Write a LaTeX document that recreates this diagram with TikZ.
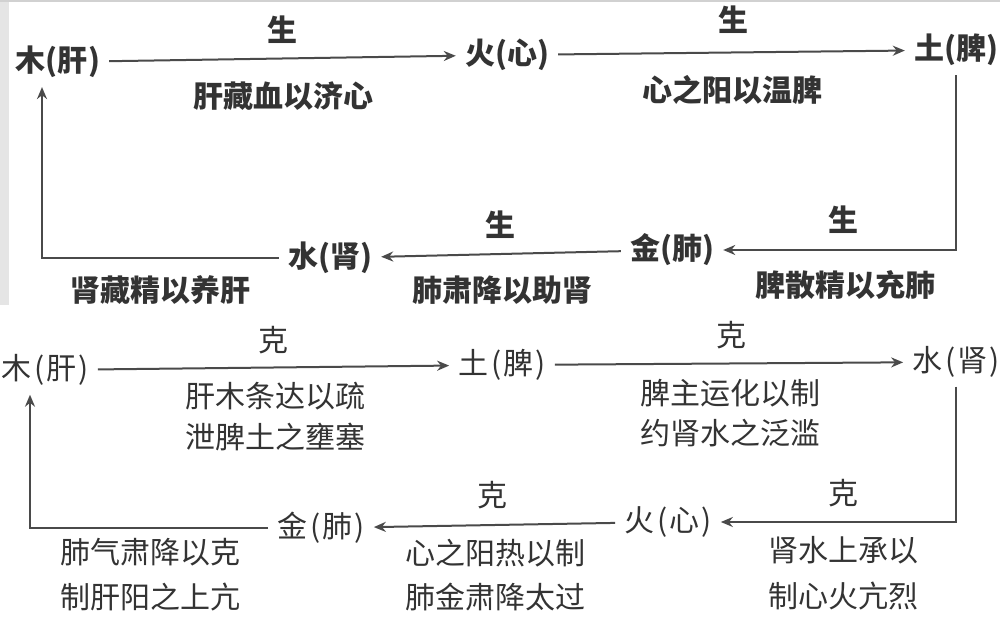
\documentclass[tikz,border=0pt]{standalone}
\usepackage{fontspec}
\newfontfamily\cjk{Noto Sans CJK SC}
\usetikzlibrary{arrows.meta}
\definecolor{ink}{HTML}{333333}
\definecolor{linec}{HTML}{4A4A4A}
\begin{document}
\begin{tikzpicture}[x=1pt,y=-1pt,
  el/.style={font=\cjk\bfseries\fontsize{30}{31}\selectfont,text=ink,inner xsep=9pt,inner ysep=9pt},
  elb/.style={font=\cjk\fontsize{30}{31}\selectfont,text=ink,inner xsep=9pt,inner ysep=9pt},
  lab/.style={font=\cjk\bfseries\fontsize{30}{32}\selectfont,text=ink,inner sep=0pt},
  labb/.style={font=\cjk\fontsize{30}{32}\selectfont,text=ink,inner sep=0pt,align=center},
  arr/.style={draw=linec,line width=2pt,-{Stealth[length=12pt,width=10pt]}}]
\useasboundingbox (0,0) rectangle (1000,620);
\fill[white] (0,0) rectangle (1000,620);
\fill[black!10] (0,0) rectangle (9,305);
\fill[black!18] (0,0) rectangle (1000,2);

% ---- upper cycle (sheng) ----
\node[el] (mu1)   at (58,62)   {木(肝)};
\node[el] (huo1)  at (507,55)  {火(心)};
\node[el] (tu1)   at (956,50)  {土(脾)};
\node[el] (jin1)  at (672,250) {金(肺)};
\node[el] (shui1) at (330,258) {水(肾)};

\draw[arr] (mu1) -- (huo1);
\draw[arr] (huo1) -- (tu1);
\draw[arr] (tu1.south) |- (jin1.east);
\draw[arr] (jin1) -- (shui1);
\draw[arr] (shui1.west) -| ([xshift=-16pt]mu1.south);

\node[lab] (s1) at (282,30)  {生};
\node[lab] (d1) at (283,96)  {肝藏血以济心};
\node[lab] (s2) at (733,20)  {生};
\node[lab] (d2) at (732,90)  {心之阳以温脾};
\node[lab] (s3) at (843,220) {生};
\node[lab] (d3) at (845,285) {脾散精以充肺};
\node[lab] (s4) at (500,225) {生};
\node[lab] (d4) at (502,290) {肺肃降以助肾};
\node[lab] (d5) at (160,290) {肾藏精以养肝};

% ---- lower cycle (ke) ----
\node[elb] (mu2)   at (45,370)  {木\kern3pt(\kern2pt肝\kern2pt)};
\node[elb] (tu2)   at (502,365) {土\kern3pt(\kern2pt脾\kern2pt)};
\node[elb] (shui2) at (956,362) {水\kern3pt(\kern2pt肾\kern2pt)};
\node[elb] (huo2)  at (668,522) {火\kern3pt(\kern2pt心\kern2pt)};
\node[elb] (jin2)  at (321,528) {金\kern3pt(\kern2pt肺\kern2pt)};

\draw[arr] (mu2) -- (tu2);
\draw[arr] (tu2) -- (shui2);
\draw[arr] (shui2.south) |- (huo2.east);
\draw[arr] (huo2) -- (jin2);
\draw[arr] (jin2.west) -| ([xshift=-15pt]mu2.south);

\node[labb] (k1) at (273,340) {克};
\node[labb] (e1) at (275,417) {肝木条达以疏\\[9pt]泄脾土之壅塞};
\node[labb] (k2) at (731,335) {克};
\node[labb] (e2) at (730,413) {脾主运化以制\\[8pt]约肾水之泛滥};
\node[labb] (k3) at (843,493) {克};
\node[labb] (e3) at (843,573) {肾水上承以\\[14pt]制心火亢烈};
\node[labb] (k4) at (492,495) {克};
\node[labb] (e4) at (495,575) {心之阳热以制\\[12pt]肺金肃降太过};
\node[labb] (e5) at (150,575) {肺气肃降以克\\[13pt]制肝阳之上亢};
\end{tikzpicture}
\end{document}
